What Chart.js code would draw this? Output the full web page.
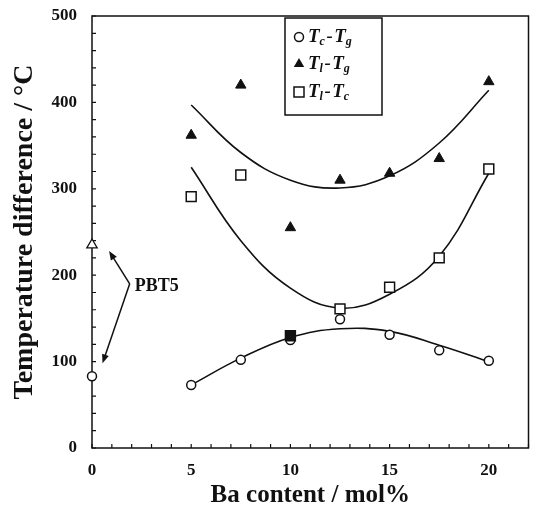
<!DOCTYPE html>
<html><head><meta charset="utf-8">
<script src="https://cdn.jsdelivr.net/npm/chart.js@4/dist/chart.umd.min.js"></script>
<style>html,body{margin:0;padding:0;background:#fff}#wrap{width:537px;height:512px}</style>
</head><body><div id="wrap"><canvas id="c" width="537" height="512"></canvas></div>
<script>
// ---- data ----
const baContent = [5, 7.5, 10, 12.5, 15, 17.5, 20];
const tcMinusTg = [73, 102, 125, 149, 131, 113, 101];
const tlMinusTg = [362, 420, 255, 310, 318, 335, 424];
const tlMinusTc = [291, 316, 130, 161, 186, 220, 323];
const pbt5Content = [0];
const pbt5TcMinusTg = [83];
const pbt5TlMinusTg = [235];
const fitContent = [5, 7.5, 10, 12.5, 15, 17.5, 20];
const fitTcMinusTg = [73, 104, 128, 138, 135, 119, 100];
const fitTlMinusTg = [397, 342, 310, 301, 315, 353, 414];
const fitTlMinusTc = [325, 240, 185, 162, 178, 222, 318];
const xTickLabels = [0, 5, 10, 15, 20];
const yTickLabels = [0, 100, 200, 300, 400, 500];
const pbt5Label = 'PBT5';
const legendRows = [['c', 'g'], ['l', 'g'], ['l', 'c']];

const pts = (xs, ys) => xs.map((x, i) => ({x, y: ys[i]}));
const SERIF = '"Liberation Serif", "Times New Roman", serif';
const INK = '#111';

const frameAndTicks = {
  id: 'frameAndTicks',
  beforeDatasetsDraw(chart) {
    const {ctx, chartArea: a, scales: {x, y}} = chart;
    ctx.save();
    ctx.strokeStyle = INK; ctx.lineWidth = 1.5;
    ctx.strokeRect(a.left, a.top, a.right - a.left, a.bottom - a.top);
    ctx.lineWidth = 1.2;
    ctx.beginPath();
    x.ticks.forEach(t => { const px = x.getPixelForValue(t.value); ctx.moveTo(px, a.bottom); ctx.lineTo(px, a.bottom - 4); });
    y.ticks.forEach(t => { const py = y.getPixelForValue(t.value); ctx.moveTo(a.left, py); ctx.lineTo(a.left + 4, py); });
    ctx.stroke();
    ctx.restore();
  }
};

function arrow(ctx, x0, y0, x1, y1) {
  const ang = Math.atan2(y1 - y0, x1 - x0), L = 9, W = 3.5;
  ctx.beginPath(); ctx.moveTo(x0, y0); ctx.lineTo(x1 - Math.cos(ang) * 4, y1 - Math.sin(ang) * 4); ctx.stroke();
  ctx.beginPath();
  ctx.moveTo(x1, y1);
  ctx.lineTo(x1 - L * Math.cos(ang) + W * Math.sin(ang), y1 - L * Math.sin(ang) - W * Math.cos(ang));
  ctx.lineTo(x1 - L * Math.cos(ang) - W * Math.sin(ang), y1 - L * Math.sin(ang) + W * Math.cos(ang));
  ctx.closePath(); ctx.fill();
}

const annotations = {
  id: 'annotations',
  afterDraw(chart) {
    const {ctx, scales: {x, y}} = chart;
    ctx.save();
    ctx.strokeStyle = INK; ctx.fillStyle = INK; ctx.lineWidth = 1.5;
    const vx = x.getPixelForValue(1.9), vy = y.getPixelForValue(190);
    arrow(ctx, vx, vy, x.getPixelForValue(0.86), y.getPixelForValue(228));
    arrow(ctx, vx, vy, x.getPixelForValue(0.53), y.getPixelForValue(98));
    ctx.font = 'bold 18px ' + SERIF; ctx.textBaseline = 'middle'; ctx.textAlign = 'left';
    ctx.fillText(pbt5Label, vx + 5, vy + 3);

    // legend box
    const bx = 285, by = 18, bw = 97, bh = 97;
    ctx.fillStyle = '#fff'; ctx.fillRect(bx, by, bw, bh);
    ctx.lineWidth = 1.5; ctx.strokeStyle = INK; ctx.strokeRect(bx, by, bw, bh);
    const rowsY = [37, 64, 92];
    const mx = 299;
    // circle
    ctx.beginPath(); ctx.arc(mx, rowsY[0], 4.5, 0, Math.PI * 2); ctx.fillStyle = '#fff'; ctx.fill(); ctx.stroke();
    // triangle
    ctx.fillStyle = INK; ctx.beginPath();
    ctx.moveTo(mx, rowsY[1] - 6); ctx.lineTo(mx + 5.2, rowsY[1] + 3); ctx.lineTo(mx - 5.2, rowsY[1] + 3); ctx.closePath(); ctx.fill();
    // square
    ctx.fillStyle = '#fff'; ctx.fillRect(mx - 5, rowsY[2] - 5, 10, 10); ctx.strokeRect(mx - 5, rowsY[2] - 5, 10, 10);
    ctx.fillStyle = INK;
    legendRows.forEach((r, i) => {
      let tx = 308; const ty = rowsY[i];
      const big = 'italic bold 19px ' + SERIF, sub = 'italic bold 12px ' + SERIF;
      ctx.textBaseline = 'middle';
      ctx.font = big; ctx.fillText('T', tx, ty); tx += ctx.measureText('T').width;
      ctx.font = sub; ctx.fillText(r[0], tx, ty + 5); tx += ctx.measureText(r[0]).width + 1.5;
      ctx.font = big; ctx.fillText('-', tx, ty); tx += ctx.measureText('-').width + 1.5;
      ctx.fillText('T', tx, ty); tx += ctx.measureText('T').width;
      ctx.font = sub; ctx.fillText(r[1], tx, ty + 5);
    });
    ctx.restore();
  }
};

const pointBase = {showLine: false, clip: false, borderColor: INK, pointBorderColor: INK, pointHoverRadius: 0};
const lineBase = {showLine: true, borderColor: INK, borderWidth: 1.6, pointRadius: 0, tension: 0.4, fill: false};

new Chart(document.getElementById('c'), {
  type: 'scatter',
  data: {
    datasets: [
      Object.assign({label: 'Tl-Tc', data: pts(baContent, tlMinusTc), pointStyle: 'rect', pointRadius: 7, pointBorderWidth: 1.5,
        pointBackgroundColor: c => (c.raw && c.raw.x === 10 ? INK : '#fff')}, pointBase),
      Object.assign({label: 'Tl-Tg', data: pts(baContent, tlMinusTg), pointStyle: 'triangle', pointRadius: 6, pointBorderWidth: 1,
        pointBackgroundColor: INK}, pointBase),
      Object.assign({label: 'Tc-Tg', data: pts(baContent, tcMinusTg), pointStyle: 'circle', pointRadius: 4.5, pointBorderWidth: 1.5,
        pointBackgroundColor: '#fff'}, pointBase),
      Object.assign({label: 'PBT5 Tl-Tg', data: pts(pbt5Content, pbt5TlMinusTg), pointStyle: 'triangle', pointRadius: 6, pointBorderWidth: 1.3,
        pointBackgroundColor: '#fff'}, pointBase),
      Object.assign({label: 'PBT5 Tc-Tg', data: pts(pbt5Content, pbt5TcMinusTg), pointStyle: 'circle', pointRadius: 4.5, pointBorderWidth: 1.5,
        pointBackgroundColor: '#fff'}, pointBase),
      Object.assign({label: 'fit Tc-Tg', data: pts(fitContent, fitTcMinusTg)}, lineBase),
      Object.assign({label: 'fit Tl-Tg', data: pts(fitContent, fitTlMinusTg)}, lineBase),
      Object.assign({label: 'fit Tl-Tc', data: pts(fitContent, fitTlMinusTc)}, lineBase)
    ]
  },
  options: {
    responsive: false, animation: false,
    layout: {padding: {top: 16, right: 5, left: 0, bottom: 0}},
    plugins: {legend: {display: false}, tooltip: {enabled: false}},
    scales: {
      x: {
        type: 'linear', min: 0, max: 22,
        border: {display: false},
        grid: {display: true, drawOnChartArea: false, drawTicks: false, color: 'transparent'},
        ticks: {stepSize: 1, autoSkip: false, maxRotation: 0, padding: 12, color: INK,
          font: {family: SERIF, size: 17, weight: 'bold'},
          callback: v => (xTickLabels.includes(v) ? String(v) : '')},
        title: {display: true, text: 'Ba content / mol%', color: INK,
          font: {family: SERIF, size: 25, weight: 'bold', lineHeight: 1}, padding: {top: 0, bottom: 4}},
        afterFit: s => { s.height = 64; s.paddingLeft = 0; s.paddingRight = 0; }
      },
      y: {
        type: 'linear', min: 0, max: 500,
        border: {display: false},
        grid: {display: true, drawOnChartArea: false, drawTicks: false, color: 'transparent'},
        ticks: {stepSize: 20, autoSkip: false, padding: 15, color: INK,
          font: {family: SERIF, size: 17, weight: 'bold'},
          callback: v => (yTickLabels.includes(v) ? String(v) : '')},
        title: {display: true, text: 'Temperature difference / °C', color: INK,
          font: {family: SERIF, size: 28, weight: 'bold', lineHeight: 1}, padding: {top: 11, bottom: 0}},
        afterFit: s => { s.width = 92; s.paddingTop = 0; s.paddingBottom = 0; }
      }
    }
  },
  plugins: [frameAndTicks, annotations]
});
</script></body></html>
